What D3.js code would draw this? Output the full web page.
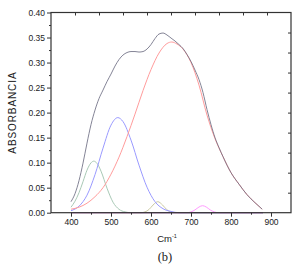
<!DOCTYPE html>
<html>
<head>
<meta charset="utf-8">
<script src="https://cdn.jsdelivr.net/npm/d3@7"></script>
<style>
  body { margin: 0; background: #fff; }
  svg { display: block; }
  text { font-family: "Liberation Sans", Arial, sans-serif; fill: #222; }
</style>
</head>
<body>
<svg id="chart" width="299" height="265"></svg>
<script>
// spectrum: [wavenumber, absorbance]
var composite = [[400,0.022],[410,0.038],[420,0.064],[430,0.099],[440,0.139],[450,0.176],[460,0.205],
  [470,0.228],[480,0.245],[490,0.262],[500,0.277],[510,0.293],[520,0.306],[530,0.315],[540,0.32],
  [550,0.322],[560,0.322],[570,0.321],[580,0.322],[590,0.327],[600,0.336],[610,0.348],[620,0.357],
  [630,0.359],[640,0.355],[650,0.349],[660,0.343],[670,0.336],[680,0.328],[690,0.316],[700,0.302],
  [710,0.285],[720,0.266],[730,0.24],[740,0.206],[750,0.176],[760,0.15],[770,0.13],[780,0.112],
  [790,0.095],[800,0.08],[820,0.057],[840,0.036],[860,0.02],[878,0.007]];

var peakRed = [[400,0.007],[420,0.011],[440,0.019],[460,0.032],[480,0.05],[500,0.077],[520,0.111],
  [540,0.152],[560,0.197],[580,0.244],[600,0.286],[620,0.319],[640,0.338],[652,0.341],[665,0.337],
  [680,0.327],[700,0.30],[720,0.255],[740,0.195],[760,0.148],[780,0.112],[800,0.08],[820,0.057],
  [840,0.036],[860,0.02],[878,0.007]];

var peakBlue = [[400,0.004],[420,0.013],[440,0.035],[460,0.076],[480,0.129],[500,0.175],[517,0.19],
  [530,0.182],[550,0.145],[570,0.095],[590,0.051],[610,0.022],[630,0.008],[650,0.0025],[670,0],[880,0]];

var peakGreen = [[400,0.011],[410,0.023],[420,0.040],[430,0.062],[440,0.085],[450,0.0996],[457,0.103],
  [465,0.0986],[475,0.083],[490,0.049],[505,0.021],[520,0.0068],[535,0.0016],[550,0],[880,0]];

var peakOlive = [[400,0],[575,0],[585,0.0016],[595,0.0064],[605,0.0153],[617,0.022],[629,0.0153],
  [639,0.0064],[649,0.0016],[660,0],[880,0]];

var peakMagenta = [[400,0],[690,0],[700,0.0016],[710,0.0056],[720,0.0114],[729,0.014],[738,0.0114],
  [748,0.0056],[758,0.0016],[770,0],[880,0]];

var baseline = [[400,0],[880,0]];

var xTicks = [400, 500, 600, 700, 800, 900];
var xMinor = [450, 550, 650, 750, 850];
var yTicks = [0, 0.05, 0.10, 0.15, 0.20, 0.25, 0.30, 0.35, 0.40];
var yMinor = [0.025, 0.075, 0.125, 0.175, 0.225, 0.275, 0.325, 0.375];
var topTicks = [410, 470, 530, 590, 650, 710, 770, 830, 890];
var rightTicks = [0.04, 0.08, 0.12, 0.16, 0.20, 0.24, 0.28, 0.32, 0.36];

var svg = d3.select("#chart");
var plotL = 51, plotR = 291, plotT = 12.5, plotB = 212.7;

var x = d3.scaleLinear().domain([350, 950]).range([plotL, plotR]);
var y = d3.scaleLinear().domain([0, 0.40]).range([plotB, plotT]);

var line = d3.line()
  .x(function(d) { return x(d[0]); })
  .y(function(d) { return y(d[1]); })
  .curve(d3.curveMonotoneX);

var series = [
  {data: peakGreen, color: "#a9c9b6"},
  {data: peakOlive, color: "#cccaa2"},
  {data: peakBlue, color: "#9a9aff"},
  {data: peakMagenta, color: "#ff9cff"},
  {data: peakRed, color: "#ff9c9c"},
  {data: composite, color: "#6e6e84", opacity: 0.85},
  {data: baseline, color: "#9a62a8"}
];

svg.append("g").selectAll("path")
  .data(series)
  .enter().append("path")
    .attr("d", function(s) { return line(s.data); })
    .attr("fill", "none")
    .attr("stroke", function(s) { return s.color; })
    .attr("stroke-opacity", function(s) { return s.opacity || 1; })
    .attr("stroke-width", 1);

// axes
var axisColor = "#333";

var gx = svg.append("g").attr("transform", "translate(0," + plotB + ")");
gx.call(d3.axisBottom(x).tickValues(xTicks).tickSize(4).tickPadding(2));
gx.append("g").call(d3.axisBottom(x).tickValues(xMinor).tickSize(2).tickFormat(""));

var gy = svg.append("g").attr("transform", "translate(" + plotL + ",0)");
gy.call(d3.axisLeft(y).tickValues(yTicks).tickSize(4).tickPadding(2).tickFormat(d3.format(".2f")));
gy.append("g").call(d3.axisLeft(y).tickValues(yMinor).tickSize(2).tickFormat(""));

svg.append("g").attr("transform", "translate(0," + plotT + ")")
  .call(d3.axisBottom(x).tickValues(topTicks).tickSize(3).tickFormat(""));
svg.append("g").attr("transform", "translate(" + plotR + ",0)")
  .call(d3.axisLeft(y).tickValues(rightTicks).tickSize(3).tickFormat(""));

svg.selectAll(".domain").remove();
svg.selectAll(".tick line").attr("stroke", axisColor).attr("stroke-width", 1);
svg.selectAll(".tick text").style("font-size", "8.5px").attr("fill", "#222");

svg.append("rect")
  .attr("x", plotL).attr("y", plotT)
  .attr("width", plotR - plotL).attr("height", plotB - plotT)
  .attr("fill", "none").attr("stroke", axisColor).attr("stroke-width", 1.2);

// titles
svg.append("text")
  .attr("transform", "translate(15.5," + ((plotT + plotB) / 2) + ") rotate(-90)")
  .attr("text-anchor", "middle")
  .style("font-size", "10px")
  .style("letter-spacing", "0.9px")
  .text("ABSORBANCIA");

var xt = svg.append("text")
  .attr("x", 167).attr("y", 241.5)
  .attr("text-anchor", "middle")
  .style("font-size", "9.5px");
xt.append("tspan").text("Cm");
xt.append("tspan").attr("dy", "-3.5").style("font-size", "5.5px").text("-1");

svg.append("text")
  .attr("x", 165).attr("y", 260.5)
  .attr("text-anchor", "middle")
  .style("font-family", "'Liberation Serif', 'DejaVu Serif', serif")
  .style("font-size", "12.5px")
  .text("(b)");
</script>
</body>
</html>
